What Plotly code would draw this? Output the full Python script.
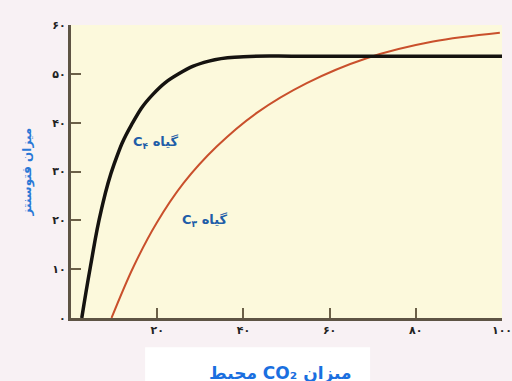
import plotly.graph_objects as go

# C4 plant (black) and C3 plant (red) photosynthesis vs ambient CO2
c4_x = [2.5, 4.5, 7.0, 10.0, 14.0, 19.0, 25.0, 32.0, 40.0, 55, 100]
c4_y = [0, 10.5, 22.0, 31.5, 39.5, 45.8, 50.0, 52.6, 53.5, 53.6, 53.6]

c3_x = [9.4, 14.5, 19.9, 26.1, 33.8, 43.1, 54.7, 68.6, 84.0, 99.5]
c3_y = [0, 10.5, 19.5, 27.6, 35.1, 42.0, 48.1, 53.2, 56.6, 58.4]

x_ticks = [20, 40, 60, 80, 100]
x_labels = ["۲۰", "۴۰", "۶۰", "۸۰", "۱۰۰"]
y_ticks = [0, 10, 20, 30, 40, 50, 60]
y_labels = ["۰", "۱۰", "۲۰", "۳۰", "۴۰", "۵۰", "۶۰"]

RLE, PDF = "\u202b", "\u202c"

fig = go.Figure()
fig.add_trace(go.Scatter(x=c3_x, y=c3_y, mode="lines",
                         line=dict(color="#c9502c", width=2, shape="spline", smoothing=1.0),
                         showlegend=False))
fig.add_trace(go.Scatter(x=c4_x, y=c4_y, mode="lines",
                         line=dict(color="#151310", width=3.5, shape="spline", smoothing=1.3),
                         showlegend=False))

label_font = dict(family="DejaVu Sans", size=13, color="#1f5ea8", weight="bold")
fig.add_annotation(x=19.5, y=36, text=RLE + "گیاه C<sub>۴</sub>" + PDF,
                   showarrow=False, font=label_font)
fig.add_annotation(x=31, y=20, text=RLE + "گیاه C<sub>۳</sub>" + PDF,
                   showarrow=False, font=label_font)

# y axis title
fig.add_annotation(xref="paper", yref="paper", x=-0.1, y=0.5,
                   xanchor="center", yanchor="middle",
                   text="میزان فتوسنتز", textangle=-90, showarrow=False,
                   font=dict(family="DejaVu Sans", size=12, color="#2a78d6", weight="bold"))

# white box behind x axis title
fig.add_shape(type="rect", xref="paper", yref="paper",
              x0=0.172, x1=0.694, y0=-0.10, y1=-0.24,
              fillcolor="white", line_width=0, layer="below")
fig.add_annotation(xref="paper", yref="paper", x=0.485, y=-0.19,
                   xanchor="center", yanchor="middle",
                   text=RLE + "میزان CO₂ محیط" + PDF, showarrow=False,
                   font=dict(family="DejaVu Sans", size=17, color="#1a6fe0", weight="bold"))

axis_common = dict(showline=True, linecolor="#5e5444", linewidth=3,
                   ticks="inside", ticklen=10, tickwidth=2, tickcolor="#6b6048",
                   showgrid=False, zeroline=False, mirror=False, automargin=False,
                   tickfont=dict(family="DejaVu Sans", size=11, color="#222222", weight="bold"))

fig.update_xaxes(range=[0, 100], tickvals=x_ticks, ticktext=x_labels,
                 ticklabeloverflow="allow", **axis_common)
fig.update_yaxes(range=[0, 60], tickvals=y_ticks, ticktext=y_labels, **axis_common)

fig.update_layout(width=512, height=381,
                  margin=dict(l=71, r=10, t=25, b=63),
                  paper_bgcolor="#f8f1f4", plot_bgcolor="#fcf9dc")

fig.write_html("out.html", config={"displayModeBar": False},
               post_script="document.body.style.margin='0';document.body.style.background='#f8f1f4';")
